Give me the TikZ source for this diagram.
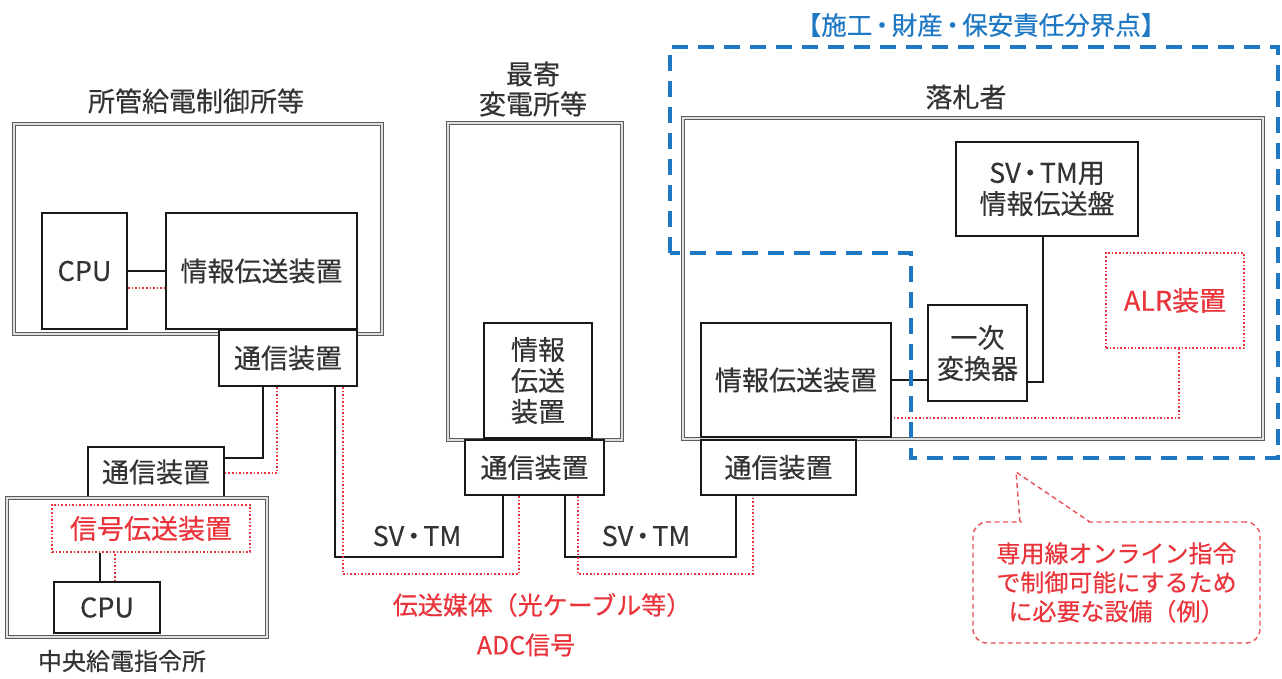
\documentclass[tikz,border=0pt]{standalone}
\usepackage{fontspec}
\setmainfont{Noto Sans CJK JP}[FakeBold=0.4]
\definecolor{txt}{HTML}{333333}
\definecolor{redc}{HTML}{E8343A}
\definecolor{bluec}{HTML}{1F78C4}
\definecolor{dbl}{HTML}{5C5C5C}
\tikzset{
  box/.style={draw=black!90, line width=1.8pt, fill=white, inner sep=0pt, align=center, text=txt, font=\fontsize{27}{31}\selectfont},
  dbox/.style={draw=dbl, line width=1.7pt, double=gray!25, double distance=1.5pt, inner sep=0pt},
  rbox/.style={draw=redc, dotted, line width=1.6pt, fill=white, inner sep=0pt, align=center, text=redc, font=\fontsize{27}{31}\selectfont},
  wire/.style={draw=black!90, line width=1.8pt},
  rwire/.style={draw=redc, line width=1.6pt, dotted},
  lbl/.style={text=txt, align=center, inner sep=0pt, font=\fontsize{27}{30}\selectfont},
  rlbl/.style={text=redc, align=center, inner sep=0pt, font=\fontsize{25}{29}\selectfont},
  bluedash/.style={draw=bluec, line width=3.5pt, dash pattern=on 16pt off 10pt},
  callline/.style={draw=redc!85, line width=1.4pt, dash pattern=on 5pt off 3.5pt},
}
\newcommand{\svtm}{SV\kern-4pt・\kern-4pt TM}
\begin{document}
\begin{tikzpicture}[x=1pt,y=-1pt]
\useasboundingbox (0,0) rectangle (1282,678);

% ---- left top: 所管給電制御所等
\node[lbl] (t1) at (196,101) {所管給電制御所等};
\node[dbox, minimum width=368pt, minimum height=210pt] (o1) at (198,229) {};
\node[box, minimum width=85pt, minimum height=116pt] (cpu1) at (84.5,271) {CPU};
\node[box, minimum width=191pt, minimum height=116pt] (info1) at (261.5,271) {情報伝送装置};
\node[box, minimum width=138pt, minimum height=56pt] (comm1) at (288,358) {通信装置};
\draw[wire] (cpu1.east) -- (info1.west);
\draw[rwire] ([yshift=-17pt]cpu1.east) -- ([yshift=-17pt]info1.west);

% ---- left bottom: 中央給電指令所
\node[box, minimum width=136pt, minimum height=50pt] (comm2) at (156,472) {通信装置};
\node[dbox, minimum width=260pt, minimum height=139pt] (o2) at (137,567.5) {};
\node[rbox, minimum width=198pt, minimum height=47pt] (sig) at (151,528.5) {信号伝送装置};
\node[box, minimum width=106pt, minimum height=51pt] (cpu2) at (107,607.5) {CPU};
\node[lbl, font=\fontsize{24}{28}\selectfont] (t2) at (122,661) {中央給電指令所};
\draw[wire] (cpu2.north -| 100,0) -- (sig.south -| 100,0);
\draw[rwire] (cpu2.north -| 115,0) -- (sig.south -| 115,0);
\draw[wire] ([xshift=-25pt]comm1.south) |- ([yshift=14pt]comm2.east);
\draw[rwire] ([xshift=-11pt]comm1.south) |- ([yshift=-1pt]comm2.east);

% ---- middle: 最寄変電所等
\node[lbl] (t3) at (533,89) {最寄\\変電所等};
\node[dbox, minimum width=174pt, minimum height=317pt] (o3) at (535,281.5) {};
\node[box, minimum width=108pt, minimum height=115pt] (info2) at (538,380.5) {情報\\伝送\\装置};
\node[box, minimum width=139pt, minimum height=55pt] (comm3) at (534.5,467.5) {通信装置};

% ---- right: 落札者
\node[lbl] (t4) at (966,97) {落札者};
\node[dbox, minimum width=580pt, minimum height=321pt] (o4) at (973,278.5) {};
\node[box, minimum width=182pt, minimum height=94pt] (svtm) at (1047,189) {\svtm 用\\情報伝送盤};
\node[box, minimum width=99pt, minimum height=96pt] (conv) at (977.5,353) {一次\\変換器};
\node[box, minimum width=190pt, minimum height=114pt] (info3) at (796,380) {情報伝送装置};
\node[rbox, minimum width=138pt, minimum height=95pt] (alr) at (1175,300.5) {ALR装置};
\node[box, minimum width=155pt, minimum height=55pt] (comm4) at (778.5,467.5) {通信装置};
\draw[wire] (info3.east) -- (info3.east -| conv.west);
\draw[wire] ([xshift=-4pt]svtm.south) |- ([yshift=-29pt]conv.east);
\draw[rwire] ([xshift=4pt]alr.south) |- ([yshift=-38pt]info3.east);

% ---- transmission lines
\draw[wire] ([xshift=47pt]comm1.south) -- ++(0,170) -| ([xshift=-31.5pt]comm3.south);
\draw[rwire] ([xshift=55pt]comm1.south) -- ++(0,187) -| ([xshift=-15.5pt]comm3.south);
\draw[wire] ([xshift=30.5pt]comm3.south) -- ++(0,61) -| ([xshift=-42.5pt]comm4.south);
\draw[rwire] ([xshift=43.5pt]comm3.south) -- ++(0,78) -| ([xshift=-25.5pt]comm4.south);
\node[lbl] (sv1) at (417,536) {\svtm};
\node[lbl] (sv2) at (646,536) {\svtm};
\node[rlbl] (med) at (542,605) {伝送媒体（光ケーブル等）};
\node[rlbl] (adc) at (526,645) {ADC信号};

% ---- blue boundary
\node[text=bluec, inner sep=0pt, font=\fontsize{25.5}{29}\selectfont] (bt) at (981,25) {【施工\kern-3pt・\kern-3pt 財産\kern-3pt・\kern-3pt 保安責任分界点】};
\draw[bluedash] (670,253) -- (670,47) -- (1278,47) -- (1278,458) -- (911,458) -- (911,253) -- cycle;

% ---- callout
\node[callline, rounded corners=14pt, minimum width=287pt, minimum height=121pt, inner sep=0pt, align=center, text=redc, font=\fontsize{24}{29}\selectfont] (call) at (1116.5,582.5) {専用線オンライン指令\\で制御可能にするため\\に必要な設備（例）};
\coordinate (tip) at (1016,472);
\draw[white, line width=3pt] (1022,522) -- (1088,522);
\draw[callline] (1020,522) -- (tip) -- (1090,522);
\end{tikzpicture}
\end{document}
